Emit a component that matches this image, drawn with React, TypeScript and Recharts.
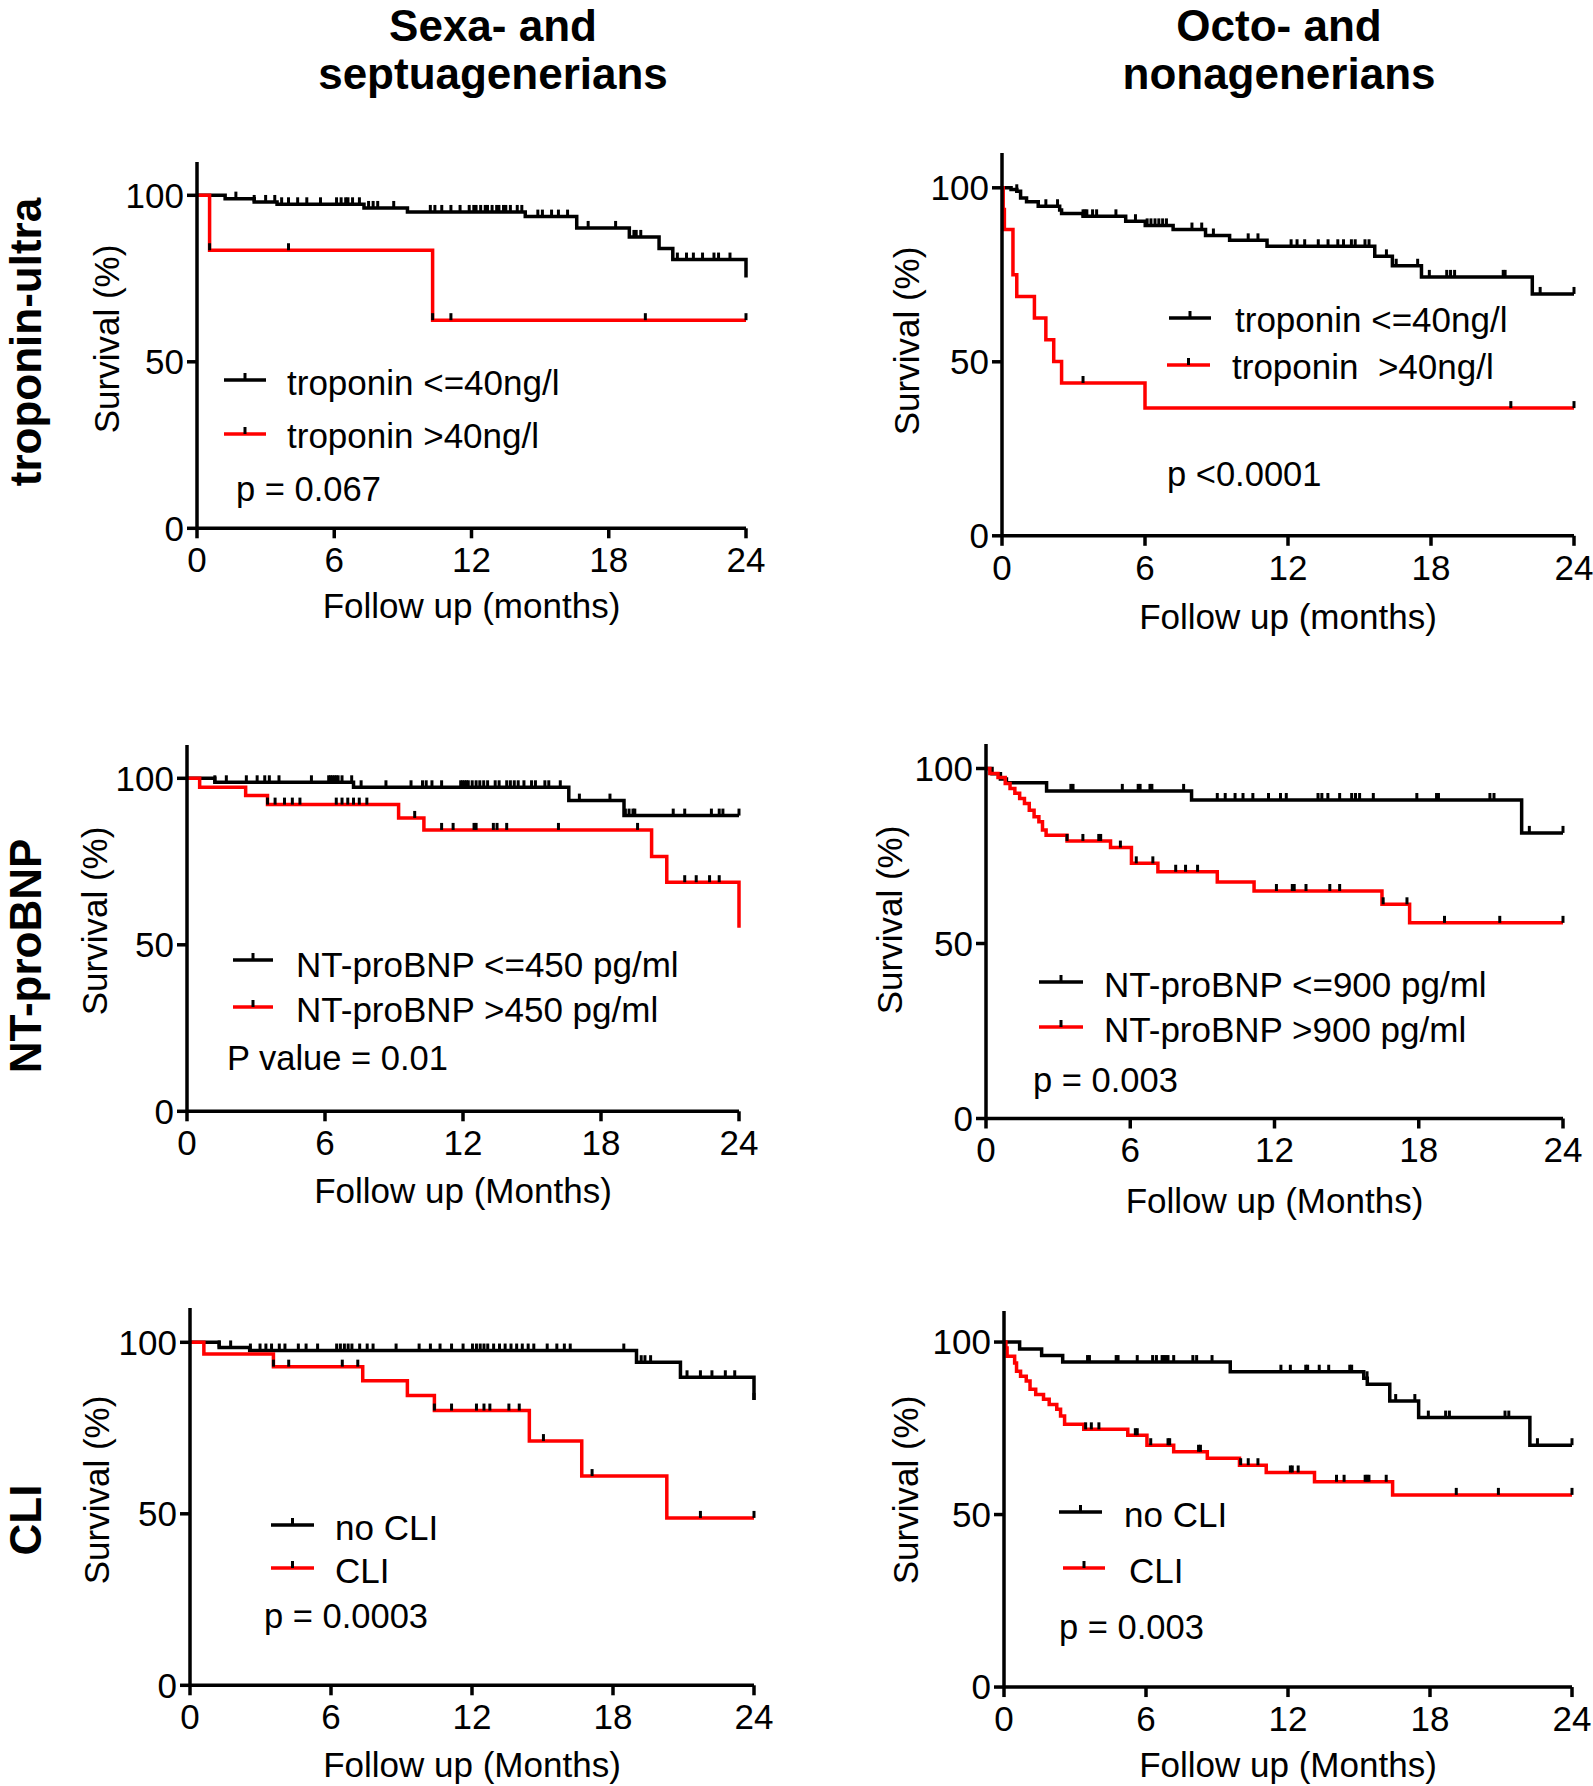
import { ComposedChart, Line, Scatter, XAxis, YAxis } from "recharts";

const FONT = "'Liberation Sans', Arial, Helvetica, sans-serif";
const RED = "#ff0000";

const monthTicks = [0, 6, 12, 18, 24];
const survivalTicks = [0, 50, 100];

// --- troponin, 60-79 y ---
const tropYoungLowT = [0, 1.23, 2.5, 3.5, 7.3, 9.2, 14.35, 16.6, 18.9, 20.2, 20.8, 24];
const tropYoungLowS = [100, 99, 98, 97.3, 96.2, 95, 93.6, 90.2, 87.5, 84, 80.7, 75.3];
const tropYoungLowC = [1.7, 2.5, 3.0, 3.4, 3.7, 4.0, 4.4, 4.8, 5.4, 6.1, 6.3, 6.5, 6.6, 6.8, 7.1, 7.5, 7.7, 7.9, 8.6, 10.2, 10.4, 10.7, 11.1, 11.5, 11.9, 12.1, 12.2, 12.4, 12.6, 12.7, 12.9, 13.1, 13.2, 13.4, 13.5, 13.7, 14.0, 14.2, 14.9, 15.1, 15.5, 15.8, 16.2, 17.1, 18.3, 19.1, 19.2, 19.4, 21.0, 21.4, 21.7, 22.1, 22.6, 22.8, 23.3];
const tropYoungHighT = [0, 0.55, 10.3, 24];
const tropYoungHighS = [100, 83.5, 62.5, 62.5];
const tropYoungHighC = [0.55, 4.0, 10.3, 11.1, 19.6, 24];

// --- troponin, 80+ y ---
const tropOldLowT = [0, 0.38, 0.62, 0.78, 1.03, 1.52, 2.42, 2.5, 3.4, 5.19, 6.01, 7.18, 8.54, 9.55, 11.12, 15.64, 16.38, 17.6, 22.25, 24];
const tropOldLowS = [100, 99.5, 99, 97.1, 96, 94.7, 93.6, 92.6, 91.8, 90.4, 89.2, 88, 86.3, 84.9, 83.2, 80.3, 77.6, 74.4, 69.5, 69.5];
const tropOldLowC = [0.62, 1.84, 2.33, 3.4, 3.48, 3.56, 3.8, 3.97, 4.78, 5.6, 6.09, 6.25, 6.42, 6.58, 6.74, 6.9, 7.97, 8.38, 8.87, 10.33, 10.74, 12.13, 12.38, 12.7, 13.27, 13.68, 14.09, 14.33, 14.66, 14.82, 15.23, 15.4, 16.13, 16.54, 17.44, 17.93, 18.66, 18.82, 18.99, 21.03, 21.11, 22.58, 24];
const tropOldHighT = [0, 0.05, 0.1, 0.46, 0.62, 1.36, 1.84, 2.17, 2.5, 6.0, 24];
const tropOldHighS = [100, 93.8, 88, 75, 68.8, 62.6, 56.3, 50.1, 43.9, 36.7, 36.7];
const tropOldHighC = [3.4, 21.35, 24];

// --- NT-proBNP, 60-79 y ---
const bnpYoungLowT = [0, 1.21, 7.24, 16.6, 19.0, 24];
const bnpYoungLowS = [100, 98.8, 97.3, 93.3, 88.8, 88.8];
const bnpYoungLowC = [1.21, 1.71, 2.58, 3.05, 3.38, 3.58, 4.0, 5.41, 6.16, 6.24, 6.32, 6.41, 6.49, 6.57, 6.74, 7.16, 7.57, 8.65, 9.74, 10.24, 10.4, 10.65, 11.07, 11.9, 11.98, 12.07, 12.15, 12.23, 12.4, 12.57, 12.73, 12.9, 13.07, 13.4, 13.57, 13.9, 14.06, 14.23, 14.4, 14.65, 14.98, 15.15, 15.56, 15.73, 16.23, 17.06, 18.39, 19.06, 19.22, 19.39, 19.47, 21.14, 21.64, 22.8, 23.14, 23.3, 24];
const bnpYoungHighT = [0, 0.55, 2.55, 3.5, 9.2, 10.3, 20.2, 20.86, 24];
const bnpYoungHighS = [100, 97.3, 94.8, 92.1, 88.1, 84.5, 76.5, 68.8, 55.1];
const bnpYoungHighC = [3.5, 3.83, 4.24, 4.58, 4.91, 6.49, 6.74, 6.99, 7.24, 7.49, 7.82, 9.9, 11.07, 11.57, 12.48, 12.57, 13.32, 13.48, 13.9, 16.15, 19.59, 21.64, 22.14, 22.72, 23.14];

// --- NT-proBNP, 80+ y ---
const bnpOldLowT = [0, 0.25, 0.6, 0.85, 2.52, 8.55, 22.28, 24];
const bnpOldLowS = [100, 98.5, 97, 95.9, 93.6, 91, 81.6, 81.6];
const bnpOldLowC = [3.53, 3.62, 5.67, 6.33, 6.41, 6.82, 6.9, 8.22, 9.62, 9.95, 10.36, 10.69, 11.1, 11.75, 12.25, 12.49, 13.81, 13.97, 14.22, 14.71, 15.21, 15.37, 15.54, 16.11, 17.92, 18.74, 18.82, 20.96, 21.13, 22.6, 24];
const bnpOldHighT = [0, 0.16, 0.5, 0.8, 1.0, 1.2, 1.4, 1.6, 1.8, 2.0, 2.2, 2.35, 2.5, 3.37, 5.18, 6.05, 7.15, 9.62, 11.15, 16.47, 17.62, 24];
const bnpOldHighS = [100, 98.6, 97.4, 95.7, 94.3, 92.9, 91.4, 90, 88.1, 86.2, 84.8, 82.4, 80.9, 79.3, 77.4, 72.9, 70.5, 67.6, 65, 61.2, 55.9, 55.9];
const bnpOldHighC = [3.37, 4.03, 4.69, 4.77, 5.59, 6.25, 6.94, 7.89, 8.3, 8.8, 12.08, 12.74, 12.82, 13.31, 14.3, 14.71, 16.52, 17.51, 19.07, 21.37, 24];

// --- CLI, 60-79 y ---
const cliYoungNoT = [0, 1.24, 2.54, 19.0, 20.87, 24];
const cliYoungNoS = [100, 98.5, 97.6, 94.2, 89.8, 83.2];
const cliYoungNoC = [1.24, 1.73, 2.57, 2.98, 3.23, 3.47, 3.8, 4.04, 4.61, 4.94, 5.43, 6.24, 6.4, 6.57, 6.73, 6.89, 7.22, 7.54, 7.79, 8.77, 9.75, 10.23, 10.64, 11.13, 11.62, 12.02, 12.19, 12.35, 12.51, 12.67, 12.92, 13.17, 13.41, 13.66, 13.9, 14.14, 14.39, 14.63, 15.2, 15.61, 15.93, 16.18, 18.46, 19.2, 19.36, 19.6, 21.15, 21.72, 22.21, 22.78, 23.18, 24];
const cliYoungYesT = [0, 0.59, 3.55, 7.35, 9.25, 10.4, 14.44, 16.67, 20.29, 24];
const cliYoungYesS = [100, 96.6, 92.9, 88.8, 84.5, 80.1, 71.2, 61, 48.8, 48.8];
const cliYoungYesC = [3.55, 4.2, 6.48, 7.14, 10.4, 11.13, 12.19, 12.51, 12.76, 13.57, 14.01, 15.04, 17.11, 21.72, 24];

// --- CLI, 80+ y ---
const cliOldNoT = [0, 0.66, 1.59, 2.48, 9.56, 15.2, 15.35, 16.3, 17.52, 22.22, 24];
const cliOldNoS = [100, 98, 96.1, 94.2, 91.4, 89.5, 87.8, 82.9, 78.1, 70.1, 70.1];
const cliOldNoC = [3.53, 3.61, 4.74, 4.82, 5.63, 6.28, 6.44, 6.68, 6.76, 6.84, 6.93, 7.17, 7.98, 8.14, 8.79, 11.7, 12.1, 12.75, 12.83, 13.32, 13.72, 14.61, 14.69, 15.34, 16.55, 17.36, 17.93, 18.66, 18.82, 21.17, 21.33, 22.54, 24];
const cliOldYesT = [0, 0.08, 0.13, 0.45, 0.53, 0.7, 0.94, 1.1, 1.34, 1.67, 1.91, 2.23, 2.39, 2.56, 3.37, 5.23, 6.04, 7.17, 8.59, 9.95, 11.08, 13.12, 16.42, 24];
const cliOldYesS = [100, 98.3, 95.9, 93.9, 91.5, 90.1, 88.7, 86.3, 84.8, 83.4, 81.9, 80.5, 78.6, 76.2, 74.7, 73, 70.1, 68.2, 66.3, 64.3, 62.2, 59.5, 55.7, 55.7];
const cliOldYesC = [3.45, 3.69, 4.01, 5.55, 5.63, 6.2, 6.93, 7.0, 8.22, 8.3, 10.0, 10.32, 10.73, 12.1, 12.18, 12.43, 14.05, 14.37, 15.26, 15.34, 15.42, 16.15, 19.11, 20.89, 24];

type Pt = { t: number; s: number };

const steps = (times: number[], surv: number[]): Pt[] => times.map((t, i) => ({ t, s: surv[i] }));

// survival level at each censor time = last step at or before it
const censored = (times: number[], surv: number[], cens: number[]): Pt[] =>
  cens.map((c) => {
    let s = surv[0];
    times.forEach((t, i) => {
      if (t <= c) s = surv[i];
    });
    return { t: c, s };
  });

type Curve = { T: number[]; S: number[]; C: number[]; color: string };

type Legend = { x1: number; x2: number; ly: number; tx: number; ty: number; label: string };

type PanelCfg = {
  x0: number;
  x24: number;
  y100: number;
  y0: number;
  yMax: number;
  curves: Curve[];
  yLabel: [number, number];
  xLabel: string;
  xLabelY: number;
  legends: Legend[];
  pText: string;
  p: [number, number];
};

const panels: PanelCfg[] = [
  {
    x0: 197, x24: 746, y100: 195, y0: 528, yMax: 110,
    curves: [
      { T: tropYoungLowT, S: tropYoungLowS, C: tropYoungLowC, color: "#000" },
      { T: tropYoungHighT, S: tropYoungHighS, C: tropYoungHighC, color: RED },
    ],
    yLabel: [106, 339], xLabel: "Follow up (months)", xLabelY: 605,
    legends: [
      { x1: 224, x2: 266, ly: 380, tx: 287, ty: 382, label: "troponin <=40ng/l" },
      { x1: 224, x2: 266, ly: 434, tx: 287, ty: 435, label: "troponin >40ng/l" },
    ],
    pText: "p = 0.067", p: [236, 489],
  },
  {
    x0: 1002, x24: 1574, y100: 188, y0: 536, yMax: 110,
    curves: [
      { T: tropOldLowT, S: tropOldLowS, C: tropOldLowC, color: "#000" },
      { T: tropOldHighT, S: tropOldHighS, C: tropOldHighC, color: RED },
    ],
    yLabel: [906, 341], xLabel: "Follow up (months)", xLabelY: 616,
    legends: [
      { x1: 1169, x2: 1211, ly: 318, tx: 1235, ty: 319, label: "troponin <=40ng/l" },
      { x1: 1167, x2: 1210, ly: 365, tx: 1232, ty: 366, label: "troponin  >40ng/l" },
    ],
    pText: "p <0.0001", p: [1167, 474],
  },
  {
    x0: 187, x24: 739, y100: 778, y0: 1111, yMax: 110,
    curves: [
      { T: bnpYoungLowT, S: bnpYoungLowS, C: bnpYoungLowC, color: "#000" },
      { T: bnpYoungHighT, S: bnpYoungHighS, C: bnpYoungHighC, color: RED },
    ],
    yLabel: [94, 921], xLabel: "Follow up (Months)", xLabelY: 1190,
    legends: [
      { x1: 233, x2: 273, ly: 960, tx: 296, ty: 964, label: "NT-proBNP <=450 pg/ml" },
      { x1: 233, x2: 273, ly: 1007, tx: 296, ty: 1009, label: "NT-proBNP >450 pg/ml" },
    ],
    pText: "P value = 0.01", p: [227, 1058],
  },
  {
    x0: 986, x24: 1563, y100: 768, y0: 1118, yMax: 107,
    curves: [
      { T: bnpOldLowT, S: bnpOldLowS, C: bnpOldLowC, color: "#000" },
      { T: bnpOldHighT, S: bnpOldHighS, C: bnpOldHighC, color: RED },
    ],
    yLabel: [889, 920], xLabel: "Follow up (Months)", xLabelY: 1200,
    legends: [
      { x1: 1039, x2: 1083, ly: 982, tx: 1104, ty: 984, label: "NT-proBNP <=900 pg/ml" },
      { x1: 1039, x2: 1083, ly: 1027, tx: 1104, ty: 1029, label: "NT-proBNP >900 pg/ml" },
    ],
    pText: "p = 0.003", p: [1033, 1080],
  },
  {
    x0: 190, x24: 754, y100: 1342, y0: 1685, yMax: 110,
    curves: [
      { T: cliYoungNoT, S: cliYoungNoS, C: cliYoungNoC, color: "#000" },
      { T: cliYoungYesT, S: cliYoungYesS, C: cliYoungYesC, color: RED },
    ],
    yLabel: [96, 1490], xLabel: "Follow up (Months)", xLabelY: 1764,
    legends: [
      { x1: 271, x2: 314, ly: 1525, tx: 335, ty: 1527, label: "no CLI" },
      { x1: 271, x2: 314, ly: 1568, tx: 335, ty: 1570, label: "CLI" },
    ],
    pText: "p = 0.0003", p: [264, 1616],
  },
  {
    x0: 1004, x24: 1572, y100: 1342, y0: 1687, yMax: 109,
    curves: [
      { T: cliOldNoT, S: cliOldNoS, C: cliOldNoC, color: "#000" },
      { T: cliOldYesT, S: cliOldYesS, C: cliOldYesC, color: RED },
    ],
    yLabel: [905, 1490], xLabel: "Follow up (Months)", xLabelY: 1764,
    legends: [
      { x1: 1059, x2: 1102, ly: 1512, tx: 1124, ty: 1514, label: "no CLI" },
      { x1: 1063, x2: 1105, ly: 1568, tx: 1129, ty: 1570, label: "CLI" },
    ],
    pText: "p = 0.003", p: [1059, 1627],
  },
];

const CensorMark = (props: any) => {
  const { cx, cy } = props;
  if (cx == null || cy == null) return <g />;
  return <line x1={cx} x2={cx} y1={cy} y2={cy - 7} stroke="#000" strokeWidth={3} />;
};

const axisStroke = { stroke: "#000", strokeWidth: 3.5 };
const tickFont = { fontSize: 35, fill: "#000", fontFamily: FONT };

function KMPanel({ p }: { p: PanelCfg }) {
  const plotTop = p.y0 - ((p.y0 - p.y100) * p.yMax) / 100;
  const left = p.x0 - 160;
  const top = plotTop - 10;
  const width = p.x24 + 25 - left;
  const height = p.y0 + 90 - top;
  return (
    <div style={{ position: "absolute", left, top }}>
      <ComposedChart width={width} height={height} margin={{ top: 10, right: 25, bottom: 60, left: 100 }}>
        <XAxis
          dataKey="t"
          type="number"
          domain={[0, 24]}
          ticks={monthTicks}
          interval={0}
          height={30}
          tickSize={10}
          tickMargin={9}
          axisLine={axisStroke}
          tickLine={axisStroke}
          tick={tickFont}
        />
        <YAxis
          dataKey="s"
          type="number"
          domain={[0, p.yMax]}
          ticks={survivalTicks}
          interval={0}
          width={60}
          tickSize={10}
          tickMargin={3}
          axisLine={axisStroke}
          tickLine={axisStroke}
          tick={tickFont}
        />
        {p.curves.map((c, i) => (
          <Line
            key={"l" + i}
            data={steps(c.T, c.S)}
            dataKey="s"
            type="stepAfter"
            stroke={c.color}
            strokeWidth={3.5}
            dot={false}
            isAnimationActive={false}
          />
        ))}
        {p.curves.map((c, i) => (
          <Scatter
            key={"c" + i}
            data={censored(c.T, c.S, c.C)}
            dataKey="s"
            shape={CensorMark}
            isAnimationActive={false}
          />
        ))}
      </ComposedChart>
    </div>
  );
}

const colTitles = [
  { x: 493, lines: ["Sexa- and", "septuagenerians"] },
  { x: 1279, lines: ["Octo- and", "nonagenerians"] },
];
const rowTitles = [
  { y: 342, label: "troponin-ultra" },
  { y: 956, label: "NT-proBNP" },
  { y: 1520, label: "CLI" },
];

export default function App() {
  return (
    <div style={{ position: "absolute", left: 0, top: 0, width: 1593, height: 1786, overflow: "hidden", background: "#fff" }}>
      {panels.map((p, i) => (
        <KMPanel key={i} p={p} />
      ))}
      <svg width={1593} height={1786} style={{ position: "absolute", left: 0, top: 0, pointerEvents: "none" }} fontFamily={FONT}>
        {colTitles.map((c) =>
          c.lines.map((l, j) => (
            <text key={l} x={c.x} y={41 + j * 48} textAnchor="middle" fontSize={44} fontWeight="bold" fill="#000">
              {l}
            </text>
          ))
        )}
        {rowTitles.map((r) => (
          <text key={r.label} transform={`translate(25, ${r.y}) rotate(-90)`} textAnchor="middle" dy="0.358em" fontSize={44} fontWeight="bold" fill="#000">
            {r.label}
          </text>
        ))}
        {panels.map((p, i) => (
          <g key={i}>
            <text transform={`translate(${p.yLabel[0]}, ${p.yLabel[1]}) rotate(-90)`} textAnchor="middle" dy="0.358em" fontSize={35} fill="#000">
              Survival (%)
            </text>
            <text x={(p.x0 + p.x24) / 2} y={p.xLabelY} dy="0.358em" textAnchor="middle" fontSize={35} fill="#000">
              {p.xLabel}
            </text>
            {p.legends.map((l, j) => (
              <g key={j}>
                <line x1={l.x1} x2={l.x2} y1={l.ly} y2={l.ly} stroke={p.curves[j].color} strokeWidth={3.5} />
                <line x1={(l.x1 + l.x2) / 2} x2={(l.x1 + l.x2) / 2} y1={l.ly} y2={l.ly - 7} stroke="#000" strokeWidth={3} />
                <text x={l.tx} y={l.ty} dy="0.358em" fontSize={35} fill="#000" style={{ whiteSpace: "pre" }}>
                  {l.label}
                </text>
              </g>
            ))}
            <text x={p.p[0]} y={p.p[1]} dy="0.358em" fontSize={34.5} fill="#000">
              {p.pText}
            </text>
          </g>
        ))}
      </svg>
    </div>
  );
}
